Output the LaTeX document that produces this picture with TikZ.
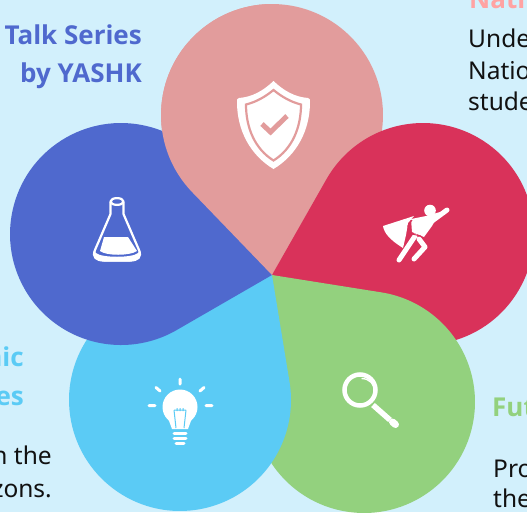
\documentclass[tikz,border=0pt]{standalone}
\usepackage{fontspec}
\setmainfont{Noto Sans}
\newfontfamily\ttlfont{Open Sans}[BoldFont={Open Sans Bold}]
\definecolor{bgc}{HTML}{D2F0FC}
\definecolor{pinkc}{HTML}{E29C9C}
\definecolor{redc}{HTML}{D9325A}
\definecolor{bluec}{HTML}{4F69CE}
\definecolor{skyc}{HTML}{5BCBF5}
\definecolor{greenc}{HTML}{93D17E}
\definecolor{pinkt}{HTML}{FFA3A3}
\definecolor{inkc}{HTML}{111111}
\newcommand\petal[4]{%
  \pgfmathsetmacro\pdx{#1-272}\pgfmathsetmacro\pdy{275-#2}%
  \pgfmathsetmacro\pd{veclen(\pdx,\pdy)}%
  \pgfmathsetmacro\pang{atan2(\pdy,\pdx)}%
  \pgfmathsetmacro\pa{asin(#3/\pd)}%
  \pgfmathsetmacro\pL{\pd*cos(\pa)}%
  \fill[#4,x=1pt,y=1pt,shift={(272pt,-275pt)},rotate=\pang]
    (0,0) -- ({\pL*cos(\pa)},{-\pL*sin(\pa)})
    arc[start angle={-90-\pa},delta angle={180+2*\pa},radius=#3pt] -- cycle;}
\tikzset{
  title/.style={font=\fontsize{26}{30}\ttlfont\bfseries\selectfont,anchor=base west,inner sep=0},
  titler/.style={font=\fontsize{26}{30}\ttlfont\bfseries\selectfont,anchor=base east,inner sep=0},
  body/.style={font=\fontsize{24.5}{28}\selectfont,text=inkc,anchor=base west,inner sep=0},
  bodyr/.style={font=\fontsize{24.5}{28}\selectfont,text=inkc,anchor=base east,inner sep=0},
  wl/.style={draw=white,line cap=round,line join=round}
}
\begin{document}
\begin{tikzpicture}[x=1pt,y=-1pt]
\useasboundingbox (0,0) rectangle (527,512);
\clip (0,0) rectangle (527,512);
\fill[bgc] (0,0) rectangle (527,512);
% text
\node[titler,text=bluec] (t1) at (142,44) {Talk Series};
\node[titler,text=bluec] (t2) at (142,82) {by YASHK};
\node[title,text=pinkt] (n1) at (469,8) {Nati};
\node[body] (n2) at (468,47) {Under};
\node[body] (n3) at (468,79) {National};
\node[body] (n4) at (468,110) {student};
\node[titler,text=skyc] (a1) at (24,366) {mic};
\node[titler,text=skyc] (a2) at (24,405) {ies};
\node[bodyr] (a3) at (52,464) {n the};
\node[bodyr] (a4) at (52,497) {zons.};
\node[title,text=greenc] (f1) at (492,416) {Future};
\node[body] (f2) at (493,477) {Pro};
\node[body] (f3) at (493,507) {the};
% petals
\petal{272}{115}{111}{pinkc}
\petal{423}{234}{111}{redc}
\petal{364}{402}{111}{greenc}
\petal{180}{400}{111}{skyc}
\petal{121}{234}{111}{bluec}
\begin{scope}
\clip (0,0) rectangle (272,275);
\petal{272}{115}{111}{pinkc}
\end{scope}
% shield
\fill[white] (273.5,81) .. controls (263,91) and (252,97) .. (239,98) .. controls (236.5,98.5) and (237,100) .. (237,102)
  .. controls (237,130) and (250,155) .. (273.5,169) .. controls (297,155) and (310,130) .. (310,102)
  .. controls (310,100) and (310.5,98.5) .. (308,98) .. controls (295,97) and (284,91) .. (273.5,81) -- cycle;
\draw[pinkc,line width=2.2] (273.5,90) .. controls (265,97) and (256,102) .. (246,104.5)
  .. controls (246,128) and (255,149) .. (273.5,160.5) .. controls (292,149) and (301,128) .. (301,104.5)
  .. controls (291,102) and (282,97) .. (273.5,90) -- cycle;
\draw[pinkc,line width=5] (262,124) -- (270.5,132) -- (287,116);
% flask
\draw[wl,line width=2.2] (117,201.5) ellipse[x radius=6.5,y radius=3.4];
\draw[wl,line width=2.2] (110.5,202) -- (110.5,214) -- (95,250) .. controls (92,257) and (96,260.5) .. (104,260.5) -- (130,260.5) .. controls (138,260.5) and (142,257) .. (139,250) -- (123.5,214) -- (123.5,202);
\fill[white] (94,250) .. controls (92,257) and (97,261.5) .. (104,261.5) -- (130,261.5) .. controls (137,261.5) and (142,257) .. (140,250) -- (138,253) .. controls (133,258) and (101,258) .. (96,253) -- cycle;
\fill[white] (104,237) -- (128,237) -- (137,251) .. controls (130,256) and (106,256) .. (100,251) -- cycle;
% hero
\fill[white] (430,210.5) circle[radius=5.8];
\draw[wl,line width=5] (447,210) -- (432,221);
\fill[white] (383,226) -- (414,216) -- (408,223) -- (406,235) -- (403,248) .. controls (390,240) and (384,233) .. (383,226) -- cycle;
\fill[white] (411,219) -- (426,216) -- (440,212) -- (432,226) -- (424,237) -- (412,232) -- cycle;
\draw[wl,line width=5] (415,236) -- (399,260);
\draw[wl,line width=5] (419,239) -- (425,247) -- (414,259);
\draw[redc,line width=1] (412,220) -- (408,226) -- (412,234) -- (421,236);
% bulb
\fill[white] (180,407) circle[radius=17.5];
\fill[white] (168,418) -- (192,418) -- (188,429) -- (172,429) -- cycle;
\draw[skyc,line width=1] (174,410) -- (176,428) (186,410) -- (184,428) (174,410) -- (186,410) (177,408) -- (177,411) (180,408) -- (180,411) (183,408) -- (183,411);
\draw[wl,line width=3] (174,433) -- (186,433) (174,438) -- (186,438) (176,443) -- (184,443);
\draw[wl,line width=3] (180,379) -- (180,384) (149,405.5) -- (155,405.5) (206,405.5) -- (212,405.5) (156,387.5) -- (160,391) (204,387.5) -- (200,391);
% magnifier
\draw[white,line width=4.5] (360,390) circle[radius=15.5];
\draw[white,line width=1.3] (361.5,378.5) .. controls (369,378.5) and (375,384) .. (375,392);
\draw[white,line width=5.5] (373,405) -- (390,420);
\draw[wl,line width=7] (392.5,422) -- (395.5,424.5);
\end{tikzpicture}
\end{document}
